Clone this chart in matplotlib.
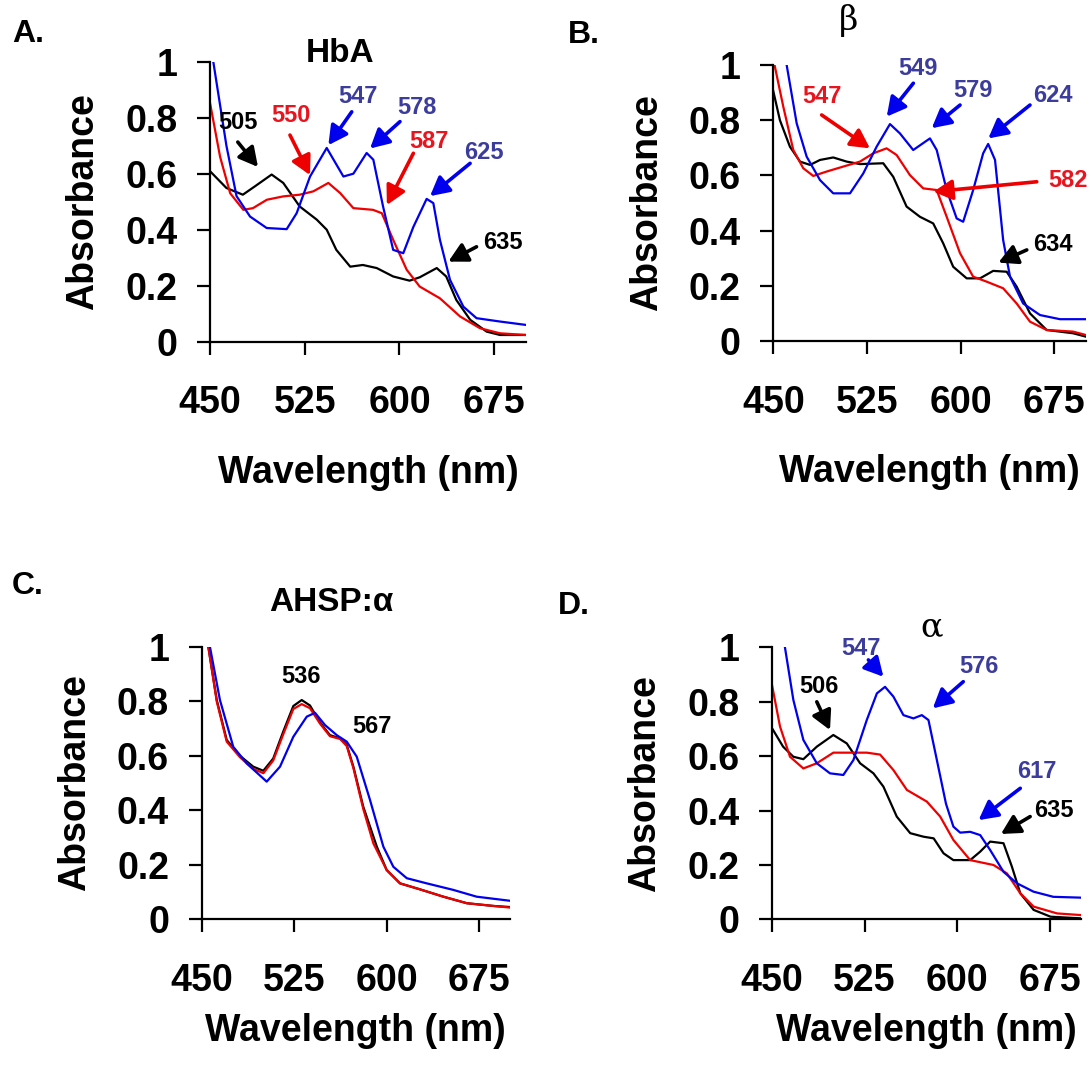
"""Four-panel absorbance spectra (A: HbA, B: beta, C: AHSP:alpha, D: alpha)."""
import matplotlib
matplotlib.use("Agg")
import matplotlib.pyplot as plt

plt.rcParams["font.family"] = ["Liberation Sans", "DejaVu Sans"]
plt.rcParams["font.weight"] = "bold"

BLUE, RED, BLACK = "#0000ee", "#ee0000", "#000000"
BLUE_TXT, RED_TXT = "#3c3c9c", "#e8141e"

# ---- Panel A: HbA ----
A_blue_wl = [450, 452.6, 463, 471, 481.7, 494.9, 510.7, 518.6, 529.2, 542.4, 555.6, 563.5,
             574, 579.3, 587, 595, 603, 611, 621.5, 626.8, 632, 640, 650.6, 661, 679.6, 700]
A_blue_abs = [1.08, 1.0, 0.70, 0.52, 0.447, 0.406, 0.402, 0.459, 0.59, 0.692, 0.59, 0.60,
              0.674, 0.65, 0.483, 0.328, 0.316, 0.41, 0.51, 0.495, 0.364, 0.221, 0.125, 0.084, 0.072, 0.06]
A_red_wl = [450, 458, 466, 476.4, 484, 495, 508, 521, 531.8, 543.7, 553, 563.5, 579, 586,
            595, 605.7, 616, 632, 648, 663.8, 679.6, 700]
A_red_abs = [0.853, 0.66, 0.53, 0.471, 0.477, 0.507, 0.519, 0.525, 0.537, 0.567, 0.531, 0.477,
             0.471, 0.459, 0.364, 0.257, 0.197, 0.155, 0.09, 0.048, 0.03, 0.024]
A_black_wl = [450, 463, 476, 485.6, 498.8, 508, 521, 534.5, 542.4, 550, 561, 571, 582, 595,
              608, 616, 629.5, 637, 645, 656, 669, 679.6, 700]
A_black_abs = [0.609, 0.549, 0.525, 0.555, 0.597, 0.567, 0.483, 0.436, 0.40, 0.328, 0.268, 0.274,
               0.263, 0.233, 0.218, 0.23, 0.263, 0.233, 0.149, 0.078, 0.036, 0.024, 0.024]

# ---- Panel B: beta ----
B_blue_wl = [457, 460.7, 468.7, 476.7, 487.4, 498, 511.4, 522, 532.7, 543.4, 551.4, 562, 575.4,
             580.8, 588.8, 596.8, 602, 610, 618, 622, 627.5, 634, 639.5, 650, 663.5, 679.5, 700]
B_blue_abs = [1.10, 1.0, 0.789, 0.668, 0.583, 0.535, 0.535, 0.607, 0.704, 0.786, 0.752, 0.692, 0.734,
              0.692, 0.547, 0.444, 0.432, 0.547, 0.68, 0.714, 0.656, 0.366, 0.233, 0.136, 0.094, 0.079, 0.079]
B_red_wl = [450, 451, 458, 466, 474, 482, 492.7, 506, 519.4, 530, 540.7, 548.7, 559.4, 570,
            580.8, 588.8, 599.5, 610, 620.8, 634, 644.8, 655.5, 668.8, 690, 700]
B_red_abs = [1.03, 1.0, 0.849, 0.692, 0.626, 0.598, 0.614, 0.632, 0.65, 0.68, 0.698, 0.674, 0.601,
             0.553, 0.547, 0.45, 0.318, 0.233, 0.215, 0.191, 0.136, 0.07, 0.04, 0.034, 0.022]
B_black_wl = [450, 455.3, 463.3, 471.4, 479.4, 487.4, 498, 508.7, 519.4, 538, 546, 556.7, 567.4,
              578, 586, 594, 604.8, 615.5, 626, 636.8, 644.8, 655.5, 668.8, 690, 700]
B_black_abs = [0.905, 0.80, 0.704, 0.65, 0.638, 0.656, 0.665, 0.65, 0.641, 0.644, 0.595, 0.487, 0.45,
               0.426, 0.354, 0.269, 0.227, 0.227, 0.254, 0.251, 0.197, 0.10, 0.04, 0.028, 0.016]

# ---- Panel C: AHSP:alpha ----
C_black_wl = [451, 455.4, 462.2, 470.3, 481, 491.8, 500, 508, 516.2, 524.3, 531.1, 537.8, 546,
              554, 562.2, 567.6, 573, 581, 592, 600, 610.8, 627, 646, 665, 686.5, 700]
C_black_abs = [1.06, 1.0, 0.805, 0.658, 0.60, 0.56, 0.545, 0.59, 0.69, 0.783, 0.805, 0.785, 0.722,
               0.676, 0.664, 0.64, 0.56, 0.413, 0.266, 0.18, 0.131, 0.109, 0.082, 0.058, 0.048, 0.044]
C_red_wl = [451, 455.4, 462.2, 470.3, 481, 491.8, 500, 508, 516.2, 524.3, 531.1, 537.8, 546,
            554, 562.2, 567.6, 573, 581, 589.2, 600, 610.8, 627, 646, 665, 686.5, 700]
C_red_abs = [1.06, 1.0, 0.80, 0.652, 0.595, 0.552, 0.536, 0.583, 0.68, 0.772, 0.79, 0.775, 0.718,
             0.672, 0.662, 0.636, 0.555, 0.405, 0.278, 0.18, 0.131, 0.109, 0.082, 0.058, 0.048, 0.042]
C_blue_wl = [453, 456.7, 464.8, 475.6, 486.5, 502.7, 513.5, 524.3, 535.2, 541.9, 550, 559.5,
             567.6, 575.7, 586.5, 597.3, 605.4, 616.3, 632.5, 654, 673, 700]
C_blue_abs = [1.06, 1.0, 0.805, 0.633, 0.572, 0.505, 0.56, 0.67, 0.744, 0.758, 0.713, 0.676,
              0.652, 0.597, 0.4375, 0.266, 0.192, 0.15, 0.131, 0.107, 0.082, 0.067]

# ---- Panel D: alpha ----
D_blue_wl = [458, 460.5, 467.3, 475.4, 486.3, 497, 507.8, 516, 526.8, 535, 541.6, 548.4, 556.5,
             564.6, 571.4, 576.8, 583.6, 591, 597, 602.5, 610.6, 618.7, 626.8, 637.6, 648.4,
             661.9, 678, 700]
D_blue_abs = [1.07, 1.0, 0.807, 0.66, 0.574, 0.537, 0.531, 0.586, 0.733, 0.831, 0.855, 0.819, 0.751,
              0.739, 0.751, 0.733, 0.586, 0.425, 0.341, 0.319, 0.322, 0.31, 0.255, 0.175, 0.133,
              0.102, 0.083, 0.08]
D_red_wl = [450, 456.5, 464.6, 475.4, 486.3, 499.7, 513.2, 526.8, 537.6, 548.4, 559.3, 575.5,
            586.3, 597, 610.6, 629.5, 640.4, 651.2, 662, 681, 700]
D_red_abs = [0.862, 0.709, 0.598, 0.555, 0.574, 0.613, 0.613, 0.613, 0.606, 0.549, 0.476, 0.433,
             0.378, 0.292, 0.218, 0.2, 0.169, 0.096, 0.047, 0.022, 0.016]
D_black_wl = [450, 459, 467.3, 475.4, 486.3, 499.7, 510.6, 521.4, 532.2, 540.3, 551.1, 562,
              572.8, 581, 589, 597, 610.6, 618.7, 626.8, 637.6, 644.4, 651.2, 662, 675.7, 700]
D_black_abs = [0.703, 0.635, 0.598, 0.589, 0.635, 0.678, 0.647, 0.574, 0.537, 0.488, 0.378, 0.317,
               0.304, 0.298, 0.243, 0.218, 0.218, 0.249, 0.286, 0.28, 0.194, 0.096, 0.035, 0.01, 0.004]

# annotation labels: (text, text_x, text_y, colour) and arrows: (tail_x, tail_y, head_x, head_y, colour)
A_labels = [("505", 471.8, 0.783, BLACK), ("550", 514, 0.807, RED_TXT), ("547", 566.8, 0.875, BLUE_TXT),
            ("578", 613.6, 0.836, BLUE_TXT), ("587", 623.6, 0.714, RED_TXT),
            ("625", 667.1, 0.676, BLUE_TXT), ("635", 682.2, 0.354, BLACK)]
A_arrows = [(472, 0.713, 488, 0.624, BLACK), (513.3, 0.738, 529.2, 0.595, RED),
            (562.2, 0.821, 543.7, 0.702, BLUE), (600.4, 0.786, 576.7, 0.69, BLUE),
            (611, 0.673, 590, 0.488, RED), (655.9, 0.637, 624.2, 0.52, BLUE),
            (661, 0.339, 638.7, 0.286, BLACK)]
B_labels = [("549", 566.1, 0.988, BLUE_TXT), ("579", 610.1, 0.909, BLUE_TXT), ("624", 674.2, 0.891, BLUE_TXT),
            ("547", 488.8, 0.885, RED_TXT), ("582", 686.2, 0.583, RED_TXT), ("634", 674.2, 0.348, BLACK)]
B_arrows = [(562.1, 0.934, 540.8, 0.813, BLUE), (599.5, 0.855, 576.8, 0.771, BLUE),
            (655.5, 0.855, 622.1, 0.734, BLUE), (488.7, 0.819, 527.4, 0.698, RED),
            (660.9, 0.577, 578.1, 0.541, RED), (652.9, 0.33, 630.2, 0.284, BLACK)]
C_labels = [("536", 530.4, 0.891, BLACK), ("567", 587.9, 0.707, BLACK)]
C_arrows = []
D_labels = [("547", 522, 0.997, BLUE_TXT), ("576", 618, 0.929, BLUE_TXT), ("506", 488.3, 0.856, BLACK),
            ("617", 664.7, 0.543, BLUE_TXT), ("635", 678.1, 0.402, BLACK)]
D_arrows = [(528.1, 0.954, 540.3, 0.892, BLUE), (605, 0.874, 580.3, 0.776, BLUE),
            (486.3, 0.8, 497, 0.696, BLACK), (651.2, 0.482, 617.4, 0.365, BLUE),
            (659.2, 0.378, 635.5, 0.314, BLACK)]

X_TICKS = [450, 525, 600, 675]
Y_TICKS = [0, 0.2, 0.4, 0.6, 0.8, 1.0]
Y_TICKLABELS = ["0", "0.2", "0.4", "0.6", "0.8", "1"]

panels = [
    # letter, letter pos (fig px), title, title pos (data), axes rect (fig px: left, bottom-y, right, top-y)
    dict(letter="A.", lpos=(12, 42), title="HbA", tpos=(553, 1.03), rect=(210, 341.7, 525.8, 61.7),
         xlpad=24, series=[(A_black_wl, A_black_abs, BLACK), (A_red_wl, A_red_abs, RED),
                           (A_blue_wl, A_blue_abs, BLUE)],
         labels=A_labels, arrows=A_arrows),
    dict(letter="B.", lpos=(568, 43), title="β", tpos=(510, 1.16), rect=(773.3, 341, 1085.6, 65),
         xlpad=24, series=[(B_black_wl, B_black_abs, BLACK), (B_red_wl, B_red_abs, RED),
                           (B_blue_wl, B_blue_abs, BLUE)],
         labels=B_labels, arrows=B_arrows),
    dict(letter="C.", lpos=(12, 594), title="AHSP:α", tpos=(555, 1.165), rect=(201.7, 919, 510, 647),
         xlpad=10, series=[(C_black_wl, C_black_abs, BLACK), (C_red_wl, C_red_abs, RED),
                           (C_blue_wl, C_blue_abs, BLUE)],
         labels=C_labels, arrows=C_arrows),
    dict(letter="D.", lpos=(558, 614), title="α", tpos=(579.5, 1.075), rect=(772, 919.4, 1080.5, 647.4),
         xlpad=10, series=[(D_black_wl, D_black_abs, BLACK), (D_red_wl, D_red_abs, RED),
                           (D_blue_wl, D_blue_abs, BLUE)],
         labels=D_labels, arrows=D_arrows),
]

W, H = 1092, 1065
fig = plt.figure(figsize=(W / 100, H / 100), dpi=100)

for p in panels:
    x0, yb, x1, yt = p["rect"]
    ax = fig.add_axes([x0 / W, 1 - yb / H, (x1 - x0) / W, (yb - yt) / H])
    for wl, ab, col in p["series"]:
        ax.plot(wl, ab, color=col, lw=1.6)
    ax.set_xlim(450, 700)
    ax.set_ylim(0, 1)
    ax.set_xticks(X_TICKS)
    ax.set_yticks(Y_TICKS)
    ax.set_yticklabels(Y_TICKLABELS)
    for s in ("top", "right"):
        ax.spines[s].set_visible(False)
    for s in ("left", "bottom"):
        ax.spines[s].set_linewidth(1.6)
    ax.tick_params(axis="both", direction="out", length=9.5, width=1.6, labelsize=27)
    ax.tick_params(axis="x", pad=22)
    ax.tick_params(axis="y", pad=14)
    ax.set_xlabel("Wavelength (nm)", fontsize=27, fontweight="bold", labelpad=p["xlpad"])
    ax.set_ylabel("Absorbance", fontsize=27, fontweight="bold", labelpad=17)

    for txt, tx, ty, col in p["labels"]:
        ax.text(tx, ty, txt, color=col, fontsize=17, fontweight="bold",
                ha="center", va="center", clip_on=False)
    for xt, yt_, xh, yh, col in p["arrows"]:
        ax.annotate("", xy=(xh, yh), xytext=(xt, yt_), annotation_clip=False,
                    arrowprops=dict(arrowstyle="-|>,head_length=0.6,head_width=0.32",
                                    color=col, lw=2.6, mutation_scale=19,
                                    shrinkA=0, shrinkB=0))
    tfam = ["DejaVu Serif"] if p["title"] in ("α", "β") else None
    ax.text(p["tpos"][0], p["tpos"][1], p["title"], fontsize=24,
            fontweight="normal" if tfam else "bold", family=tfam,
            ha="center", va="center", clip_on=False)
    fig.text(p["lpos"][0] / W, 1 - p["lpos"][1] / H, p["letter"], fontsize=23,
             fontweight="bold", ha="left", va="baseline")

fig.savefig("out.png", dpi=100)
